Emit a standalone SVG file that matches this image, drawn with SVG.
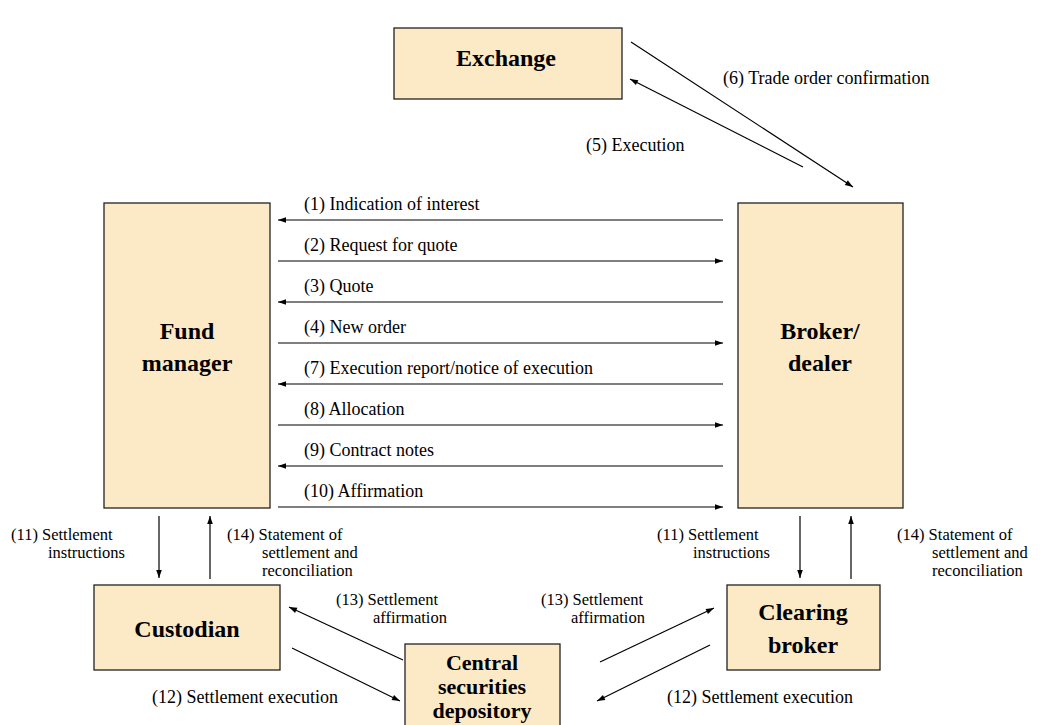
<svg xmlns="http://www.w3.org/2000/svg" width="1045" height="725" viewBox="0 0 1045 725">
<style>
.box{fill:#FCE9C6;stroke:#222;stroke-width:1.3}
.nl{font-family:"Liberation Serif",serif;font-weight:bold;font-size:24px;text-anchor:middle;fill:#000}
.nls{font-size:22px}
.t{font-family:"Liberation Serif",serif;font-size:18px;fill:#000}
.m{font-size:16.5px}
.c line{stroke:#000;stroke-width:1.2;marker-end:url(#ah)}
</style>
<defs>
<marker id="ah" viewBox="0 0 10 10" refX="10" refY="5" markerWidth="10" markerHeight="8" markerUnits="userSpaceOnUse" orient="auto">
<path d="M0,1.5 L10,5 L0,8.5 z" fill="#000"/>
</marker>
</defs>
<rect width="1045" height="725" fill="#fff"/>
<g id="exchange"><rect class="box" x="394" y="28" width="228" height="71"/><text class="nl" x="506" y="66">Exchange</text></g>
<g id="fund-manager"><rect class="box" x="104" y="203" width="166" height="305"/><text class="nl" x="187" y="339">Fund</text><text class="nl" x="187" y="371">manager</text></g>
<g id="broker-dealer"><rect class="box" x="738" y="203" width="165" height="305"/><text class="nl" x="820" y="339">Broker/</text><text class="nl" x="820" y="371">dealer</text></g>
<g id="custodian"><rect class="box" x="94" y="585" width="186" height="85"/><text class="nl" x="187" y="637">Custodian</text></g>
<g id="clearing-broker"><rect class="box" x="727" y="585" width="153" height="85"/><text class="nl" x="803" y="620">Clearing</text><text class="nl" x="803" y="653">broker</text></g>
<g id="csd"><rect class="box" x="405" y="644" width="155" height="90"/><text class="nl nls" x="482" y="670">Central</text><text class="nl nls" x="482" y="694">securities</text><text class="nl nls" x="482" y="718">depository</text></g>
<g class="c" id="connectors">
<line x1="631" y1="42" x2="853" y2="187"/>
<line x1="803" y1="167" x2="630" y2="79"/>
<line x1="723" y1="220" x2="278" y2="220"/>
<line x1="278" y1="261" x2="723" y2="261"/>
<line x1="723" y1="302" x2="278" y2="302"/>
<line x1="278" y1="343" x2="723" y2="343"/>
<line x1="723" y1="384" x2="278" y2="384"/>
<line x1="278" y1="425" x2="723" y2="425"/>
<line x1="723" y1="466" x2="278" y2="466"/>
<line x1="278" y1="507" x2="723" y2="507"/>
<line x1="159" y1="516" x2="159" y2="578"/>
<line x1="210" y1="579" x2="210" y2="516"/>
<line x1="800" y1="516" x2="800" y2="578"/>
<line x1="851" y1="579" x2="851" y2="516"/>
<line x1="403" y1="660" x2="289" y2="607"/>
<line x1="292" y1="648" x2="400" y2="701"/>
<line x1="600" y1="662" x2="714" y2="608"/>
<line x1="710" y1="645" x2="597" y2="701"/>
</g>
<g id="labels">
<text class="t" x="723" y="84">(6) Trade order confirmation</text>
<text class="t" x="586" y="151">(5) Execution</text>
<text class="t" x="304" y="210">(1) Indication of interest</text>
<text class="t" x="304" y="251">(2) Request for quote</text>
<text class="t" x="304" y="292">(3) Quote</text>
<text class="t" x="304" y="333">(4) New order</text>
<text class="t" x="304" y="374">(7) Execution report/notice of execution</text>
<text class="t" x="304" y="415">(8) Allocation</text>
<text class="t" x="304" y="456">(9) Contract notes</text>
<text class="t" x="304" y="497">(10) Affirmation</text>
<text class="t m" x="11" y="540">(11) Settlement</text>
<text class="t m" x="48" y="558">instructions</text>
<text class="t m" x="227" y="540">(14) Statement of</text>
<text class="t m" x="262" y="558">settlement and</text>
<text class="t m" x="262" y="576">reconciliation</text>
<text class="t m" x="657" y="540">(11) Settlement</text>
<text class="t m" x="693" y="558">instructions</text>
<text class="t m" x="897" y="540">(14) Statement of</text>
<text class="t m" x="932" y="558">settlement and</text>
<text class="t m" x="932" y="576">reconciliation</text>
<text class="t m" x="336" y="605">(13) Settlement</text>
<text class="t m" x="373" y="623">affirmation</text>
<text class="t m" x="541" y="605">(13) Settlement</text>
<text class="t m" x="571" y="623">affirmation</text>
<text class="t" x="152" y="703">(12) Settlement execution</text>
<text class="t" x="667" y="703">(12) Settlement execution</text>
</g>
</svg>
